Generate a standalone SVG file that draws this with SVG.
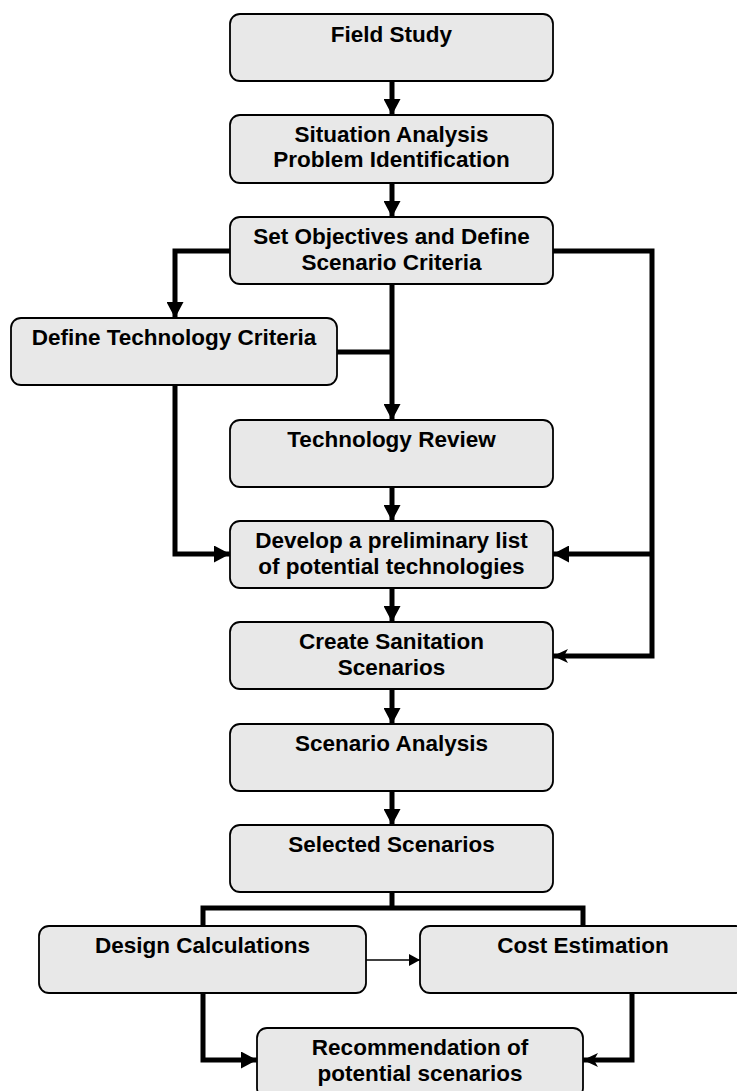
<svg xmlns="http://www.w3.org/2000/svg" width="737" height="1091" viewBox="0 0 737 1091">
<style>
.box{fill:#e8e8e8;stroke:#000;stroke-width:1.8}
.t{font-family:"Liberation Sans",Arial,sans-serif;font-weight:bold;font-size:22.5px;fill:#000;text-anchor:middle}
.c{fill:none;stroke:#000;stroke-width:5;stroke-linejoin:miter;stroke-linecap:butt}
.thin{fill:none;stroke:#000;stroke-width:1.6}
</style>
<defs>
<marker id="ah" markerUnits="userSpaceOnUse" markerWidth="17" markerHeight="17" refX="16" refY="8.5" orient="auto" viewBox="0 0 17 17">
<path d="M0,0 L16,8.5 L0,17 Z" fill="#000"/>
</marker>
<marker id="ab" markerUnits="userSpaceOnUse" markerWidth="16" markerHeight="16" refX="15" refY="8" orient="auto" viewBox="0 0 16 16">
<path d="M0,1 L15,8 L0,15 L4,8 Z" fill="#000"/>
</marker>
<marker id="as" markerUnits="userSpaceOnUse" markerWidth="12" markerHeight="12" refX="11" refY="6" orient="auto" viewBox="0 0 12 12">
<path d="M0,0 L11,6 L0,12 Z" fill="#000"/>
</marker>
</defs>
<g id="connectors">
<path class="c" d="M392,81 V115" marker-end="url(#ah)"/>
<path class="c" d="M392,183 V217" marker-end="url(#ah)"/>
<path class="c" d="M230,251 H175 V318" marker-end="url(#ah)"/>
<path class="c" d="M392,284 V420" marker-end="url(#ah)"/>
<path class="c" d="M337,352 H392"/>
<path class="c" d="M175,385 V554 H230" marker-end="url(#ah)"/>
<path class="c" d="M553,251 H652 V656 H553" marker-end="url(#ab)"/>
<path class="c" d="M652,554 H553" marker-end="url(#ah)"/>
<path class="c" d="M392,487 V521" marker-end="url(#ah)"/>
<path class="c" d="M392,588 V622" marker-end="url(#ah)"/>
<path class="c" d="M392,689 V724" marker-end="url(#ah)"/>
<path class="c" d="M392,791 V825" marker-end="url(#ah)"/>
<path class="c" d="M392,892 V908"/>
<path class="c" d="M203,926 V908 H583 V926"/>
<path class="thin" d="M366,960 H420" marker-end="url(#as)"/>
<path class="c" d="M203,993 V1060 H257" marker-end="url(#ah)"/>
<path class="c" d="M632,993 V1060 H583" marker-end="url(#ab)"/>
</g>
<g id="field"><rect class="box" x="230" y="14" width="323" height="67" rx="10"/><text class="t" x="391.5" y="42">Field Study</text></g>
<g id="situation"><rect class="box" x="230" y="115" width="323" height="68" rx="10"/><text class="t" x="391.5" y="142">Situation Analysis</text><text class="t" x="391.5" y="167">Problem Identification</text></g>
<g id="objectives"><rect class="box" x="230" y="217" width="323" height="67" rx="10"/><text class="t" x="391.5" y="244">Set Objectives and Define</text><text class="t" x="391.5" y="270">Scenario Criteria</text></g>
<g id="techcriteria"><rect class="box" x="11" y="318" width="326" height="67" rx="10"/><text class="t" x="174" y="345">Define Technology Criteria</text></g>
<g id="review"><rect class="box" x="230" y="420" width="323" height="67" rx="10"/><text class="t" x="391.5" y="447">Technology Review</text></g>
<g id="develop"><rect class="box" x="230" y="521" width="323" height="67" rx="10"/><text class="t" x="391.5" y="548">Develop a preliminary list</text><text class="t" x="391.5" y="574">of potential technologies</text></g>
<g id="create"><rect class="box" x="230" y="622" width="323" height="67" rx="10"/><text class="t" x="391.5" y="649">Create Sanitation</text><text class="t" x="391.5" y="675">Scenarios</text></g>
<g id="analysis"><rect class="box" x="230" y="724" width="323" height="67" rx="10"/><text class="t" x="391.5" y="751">Scenario Analysis</text></g>
<g id="selected"><rect class="box" x="230" y="825" width="323" height="67" rx="10"/><text class="t" x="391.5" y="852">Selected Scenarios</text></g>
<g id="design"><rect class="box" x="39" y="926" width="327" height="67" rx="10"/><text class="t" x="202.5" y="953">Design Calculations</text></g>
<g id="cost"><rect class="box" x="420" y="926" width="326" height="67" rx="10"/><text class="t" x="583" y="953">Cost Estimation</text></g>
<g id="recommendation"><rect class="box" x="257" y="1028" width="326" height="70" rx="10"/><text class="t" x="420" y="1055">Recommendation of</text><text class="t" x="420" y="1081">potential scenarios</text></g>
</svg>
